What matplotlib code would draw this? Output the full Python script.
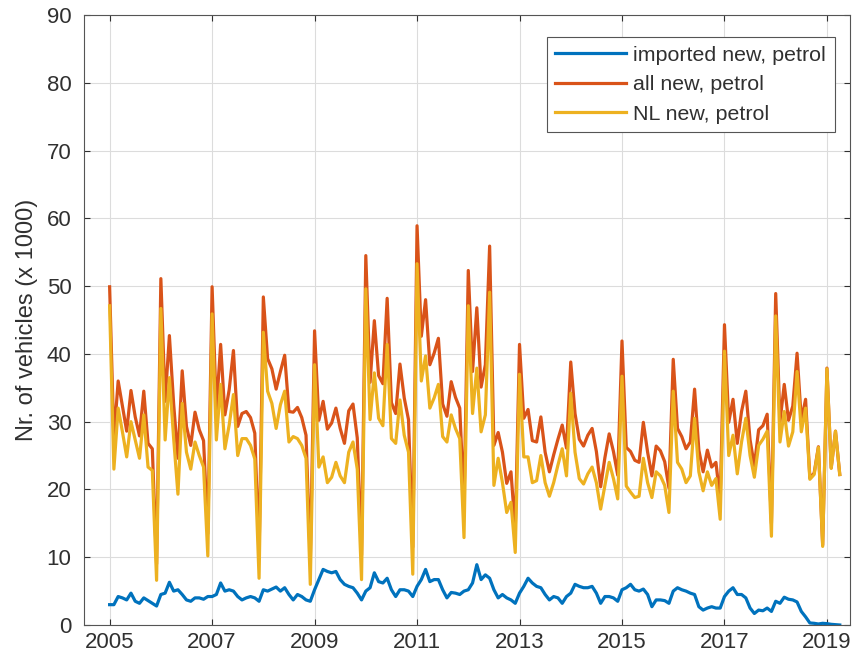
import numpy as np
import matplotlib
matplotlib.use("Agg")
import matplotlib.pyplot as plt

# ---- data (monthly, Jan 2005 .. Apr 2019), values x 1000 vehicles ----
start_year = 2005
imported_new_petrol = [
    3.0, 3.0, 4.2, 4.0, 3.7, 4.7, 3.5, 3.2, 4.0, 3.6, 3.2, 2.8,
    4.5, 4.7, 6.3, 5.0, 5.2, 4.5, 3.7, 3.5, 4.0, 4.0, 3.8, 4.2,
    4.2, 4.5, 6.2, 5.0, 5.2, 5.0, 4.2, 3.7, 4.0, 4.2, 4.0, 3.5,
    5.2, 5.0, 5.3, 5.6, 5.0, 5.5, 4.5, 3.7, 4.5, 4.2, 3.7, 3.5,
    5.2, 6.7, 8.2, 7.9, 7.7, 7.9, 6.7, 6.0, 5.7, 5.5, 4.7, 3.7,
    5.0, 5.5, 7.7, 6.4, 6.2, 6.9, 5.2, 4.2, 5.2, 5.2, 5.0, 4.2,
    5.7, 6.7, 8.2, 6.4, 6.7, 6.7, 5.2, 4.0, 4.8, 4.7, 4.5, 5.0,
    5.2, 6.2, 8.9, 6.7, 7.4, 6.9, 5.2, 4.0, 4.5, 4.0, 3.7, 3.2,
    4.7, 5.7, 6.9, 6.2, 5.7, 5.5, 4.5, 3.7, 4.2, 4.0, 3.2, 4.2,
    4.7, 6.0, 5.7, 5.5, 5.5, 5.7, 4.7, 3.2, 4.2, 4.2, 4.0, 3.5,
    5.2, 5.5, 6.0, 5.2, 5.0, 5.3, 4.5, 2.7, 3.7, 3.7, 3.6, 3.2,
    5.0, 5.5, 5.2, 5.0, 4.7, 4.5, 2.7, 2.2, 2.5, 2.7, 2.5, 2.5,
    4.2, 5.0, 5.5, 4.5, 4.5, 4.0, 2.5, 1.7, 2.2, 2.1, 2.5, 2.0,
    3.5, 3.2, 4.1, 3.8, 3.7, 3.4, 2.0, 1.2, 0.3, 0.25, 0.15, 0.25,
    0.2, 0.1, 0.05, 0.0,
]
all_new_petrol = [
    49.9, 27.5, 36.0, 32.3, 28.6, 34.6, 30.7, 27.9, 34.5, 26.8, 26.0, 9.0,
    51.1, 33.0, 42.7, 32.6, 24.6, 37.5, 29.3, 26.5, 31.4, 28.8, 27.2, 13.5,
    49.9, 31.8, 41.4, 31.0, 34.7, 40.5, 29.3, 31.2, 31.5, 30.6, 28.3, 10.2,
    48.4, 39.3, 37.8, 34.8, 37.4, 39.8, 31.5, 31.4, 32.1, 30.6, 28.0, 9.3,
    43.4, 30.2, 33.0, 28.9, 29.8, 32.0, 29.0, 26.8, 31.6, 32.6, 27.6, 10.3,
    54.5, 35.8, 44.9, 36.8, 35.6, 48.2, 32.8, 31.2, 38.5, 33.5, 30.3, 11.5,
    58.9, 42.6, 48.0, 38.4, 40.1, 42.3, 32.6, 30.8, 35.9, 33.6, 32.0, 17.9,
    52.3, 37.4, 46.8, 35.1, 38.4, 55.9, 26.5, 28.4, 25.5, 20.9, 22.6, 14.0,
    41.4, 30.5, 31.8, 27.2, 27.0, 30.7, 25.5, 22.6, 25.1, 27.4, 29.5, 26.1,
    38.8, 31.2, 27.4, 26.4, 28.0, 29.0, 25.6, 20.4, 24.7, 28.2, 25.6, 22.1,
    41.9, 26.2, 25.6, 24.3, 24.0, 29.9, 25.5, 22.0, 26.4, 25.7, 24.1, 20.2,
    39.2, 29.0, 27.8, 26.0, 27.0, 34.8, 25.8, 22.6, 25.8, 23.3, 24.0, 18.4,
    44.3, 29.9, 33.3, 26.8, 31.5, 34.5, 27.3, 23.5, 28.8, 29.4, 31.1, 15.0,
    48.9, 30.0, 35.5, 30.2, 32.3, 40.1, 30.2, 33.3, 21.7, 22.4, 26.3, 11.8,
    37.9, 23.2, 28.6, 22.2,
]
nl_new_petrol = [
    47.1, 23.0, 32.0, 28.5, 24.8, 30.0, 27.3, 24.6, 31.0, 23.3, 22.8, 6.6,
    46.7, 27.3, 36.5, 27.5, 19.3, 32.7, 25.5, 23.0, 27.0, 25.0, 23.3, 10.2,
    45.9, 27.3, 35.5, 26.0, 29.5, 34.0, 25.0, 27.5, 27.5, 26.5, 24.5, 6.9,
    43.2, 34.5, 32.7, 29.0, 32.5, 34.5, 27.0, 27.8, 27.5, 26.5, 24.6, 6.0,
    38.4, 23.3, 24.8, 21.0, 21.8, 24.0, 22.0, 21.0, 25.5, 27.0, 23.0, 6.7,
    49.6, 30.3, 37.2, 30.5, 29.4, 41.4, 27.5, 26.8, 33.2, 28.0, 25.5, 7.5,
    53.3, 36.0, 39.7, 32.0, 33.5, 35.5, 27.8, 27.0, 31.0, 29.0, 27.5, 12.9,
    47.1, 31.2, 37.9, 28.5, 31.0, 49.1, 20.6, 24.6, 21.0, 16.6, 18.1, 10.7,
    37.0, 24.8, 24.8, 21.0, 21.3, 25.0, 21.0, 19.0, 21.0, 23.6, 26.0, 22.0,
    34.2, 25.5, 21.6, 20.8, 22.3, 23.3, 21.0, 17.1, 20.6, 24.0, 21.6, 18.6,
    36.7, 20.5, 19.6, 18.8, 19.0, 24.6, 21.0, 18.8, 22.6, 22.0, 20.6, 16.6,
    34.5, 24.0, 23.0, 21.0, 22.0, 30.5, 22.6, 19.8, 22.6, 20.6, 21.6, 15.6,
    40.4, 25.0, 28.0, 22.3, 27.0, 30.5, 25.0, 21.8, 26.5, 27.4, 28.6, 13.1,
    45.6, 27.0, 31.5, 26.4, 28.5, 37.4, 28.5, 32.0, 21.5, 22.2, 26.2, 11.6,
    37.8, 23.1, 28.6, 22.2,
]
series_labels = ["imported new, petrol", "all new, petrol", "NL new, petrol"]
xtick_years = [2005, 2007, 2009, 2011, 2013, 2015, 2017, 2019]
ytick_values = [0, 10, 20, 30, 40, 50, 60, 70, 80, 90]

# ---- style ----
plt.rcParams['font.family'] = ['Liberation Sans', 'DejaVu Sans']
colors = ['#0072BD', '#D95319', '#EDB120']
axcol = '#303030'

t = start_year + np.arange(len(nl_new_petrol)) / 12.0

fig = plt.figure(figsize=(8.59, 6.63), dpi=100)
ax = fig.add_axes([84/859, 1 - 625/663, (850-84)/859, (625-15)/663])

for vals, lab, c in zip([imported_new_petrol, all_new_petrol, nl_new_petrol], series_labels, colors):
    ax.plot(t, vals, color=c, lw=2.3, label=lab)

ax.set_xlim(2004.5, 2019.45)
ax.set_ylim(0, 90)
ax.set_xticks(xtick_years)
ax.set_xticklabels([str(y) for y in xtick_years])
ax.set_yticks(ytick_values)
ax.grid(True, color='#dcdcdc', lw=0.8)
ax.set_axisbelow(True)
ax.tick_params(direction='in', length=4, width=0.8, colors=axcol, labelsize=16,
               top=True, right=True)
ax.tick_params(axis='y', pad=9)
ax.tick_params(axis='x', pad=5)
for s in ax.spines.values():
    s.set_color('#555555')
    s.set_linewidth(0.8)

ax.set_ylabel("Nr. of vehicles (x 1000)", fontsize=17, color=axcol, labelpad=6)

leg = ax.legend(loc='upper right', bbox_to_anchor=(0.980, 0.964), borderaxespad=0,
                fontsize=15.4, handlelength=3.3, handletextpad=0.35, labelspacing=0.5,
                borderpad=0.4, fancybox=False, framealpha=1, edgecolor='#555555')
leg.get_frame().set_linewidth(0.8)
for txt in leg.get_texts():
    txt.set_color(axcol)

fig.savefig("out.png", dpi=100)
